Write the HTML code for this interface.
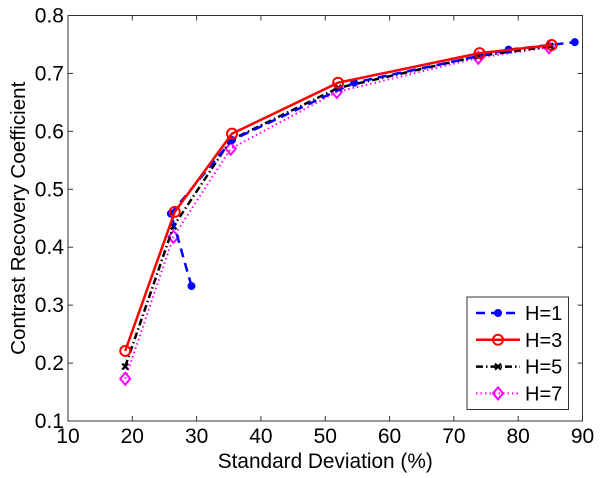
<!DOCTYPE html>
<html><head><meta charset="utf-8"><style>body{margin:0;background:#fff}svg{display:block;font-family:"Liberation Sans",Arial,sans-serif}</style></head>
<body>
<svg id="chart" width="602" height="478"></svg>
<script>
const xTicks=[10,20,30,40,50,60,70,80,90];
const yTicks=[0.1,0.2,0.3,0.4,0.5,0.6,0.7,0.8];
const h1x=[29.2,26.0,35.5,54.5,78.5,88.8];
const h1y=[0.333,0.458,0.585,0.684,0.741,0.754];
const h3x=[18.9,26.6,35.5,52.0,74.0,85.2];
const h3y=[0.221,0.461,0.596,0.684,0.735,0.749];
const h5x=[18.9,26.4,35.3,52.0,73.8,85.0];
const h5y=[0.194,0.436,0.585,0.675,0.730,0.747];
const h7x=[18.9,26.4,35.3,51.8,73.8,84.8];
const h7y=[0.173,0.418,0.570,0.668,0.727,0.745];
const names=["H=1","H=3","H=5","H=7"];

const L=68,R=582.5,T=15.5,B=421;
const sx=v=>L+(v-10)/80*(R-L);
const sy=v=>B-(v-0.1)/0.7*(B-T);
const svg=document.getElementById('chart');
const NS='http://www.w3.org/2000/svg';
function mk(tag,attrs,parent){const e=document.createElementNS(NS,tag);for(const k in attrs)e.setAttribute(k,attrs[k]);(parent||svg).appendChild(e);return e;}

const ax=mk('g',{});


mk('rect',{x:L,y:T,width:R-L,height:B-T,fill:'none',stroke:'#333','stroke-width':1},ax);
xTicks.forEach(t=>{const x=sx(t);
 mk('line',{x1:x,x2:x,y1:B,y2:B-5,stroke:'#333'},ax);mk('line',{x1:x,x2:x,y1:T,y2:T+5,stroke:'#333'},ax);
 const tx=mk('text',{x:x,y:B+22,'text-anchor':'middle','font-size':21},ax);tx.textContent=t;
 
 });
yTicks.forEach(t=>{const y=sy(t);
 mk('line',{x1:L,x2:L+5,y1:y,y2:y,stroke:'#333'},ax);mk('line',{x1:R,x2:R-5,y1:y,y2:y,stroke:'#333'},ax);
 const tx=mk('text',{x:L-4,y:y+7,'text-anchor':'end','font-size':21},ax);tx.textContent=t.toFixed(1);
 
 });
const xl=mk('text',{x:(L+R)/2,y:468,'text-anchor':'middle','font-size':20.8});xl.textContent='Standard Deviation (%)';


const yl=mk('text',{x:0,y:0,'text-anchor':'middle','font-size':20.6,transform:`translate(25,${(T+B)/2}) rotate(-90)`});yl.textContent='Contrast Recovery Coefficient';



const styles=[
 {c:'#0000ff',d:'9,6',w:2.5,m:'dot'},
 {c:'#ff0000',d:'',w:2.5,m:'circle'},
 {c:'#000',d:'7,3,1.5,3',w:2.5,m:'x'},
 {c:'#ff00ff',d:'1.5,3',w:2,m:'diamond'}];
function marker(g,m,x,y,c){
 if(m==='dot')mk('circle',{cx:x,cy:y,r:4,fill:c},g);
 else if(m==='circle')mk('circle',{cx:x,cy:y,r:5,fill:'none',stroke:c,'stroke-width':2},g);
 else if(m==='x'){mk('path',{d:`M${x-3},${y-3}L${x+3},${y+3}M${x-3},${y+3}L${x+3},${y-3}`,stroke:c,'stroke-width':2.2},g);}
 else mk('path',{d:`M${x},${y-6}L${x+5},${y}L${x},${y+6}L${x-5},${y}Z`,fill:'none',stroke:c,'stroke-width':2},g);
}
const xs=[h1x,h3x,h5x,h7x],ys=[h1y,h3y,h5y,h7y];
[3,2,0,1].forEach(i=>{const s=styles[i];const g=mk('g',{});
 
 
 mk('polyline',{points:xs[i].map((v,j)=>sx(v)+','+sy(ys[i][j])).join(' '),fill:'none',stroke:s.c,'stroke-width':s.w,'stroke-dasharray':s.d},g);
 xs[i].forEach((v,j)=>marker(g,s.m,sx(v),sy(ys[i][j]),s.c));});

const lg=mk('g',{});


mk('rect',{x:467,y:297,width:101.5,height:112.5,fill:'#fff',stroke:'#333'},lg);
names.forEach((n,i)=>{const s=styles[i];const y=313+i*26.8;const e=mk('g',{},lg);
 
 
 mk('line',{x1:476,x2:520,y1:y,y2:y,stroke:s.c,'stroke-width':s.w,'stroke-dasharray':s.d},e);
 marker(e,s.m,498,y,s.c);
 const t=mk('text',{x:525,y:y+7,'font-size':20},e);t.textContent=n;});
</script>
</body></html>
